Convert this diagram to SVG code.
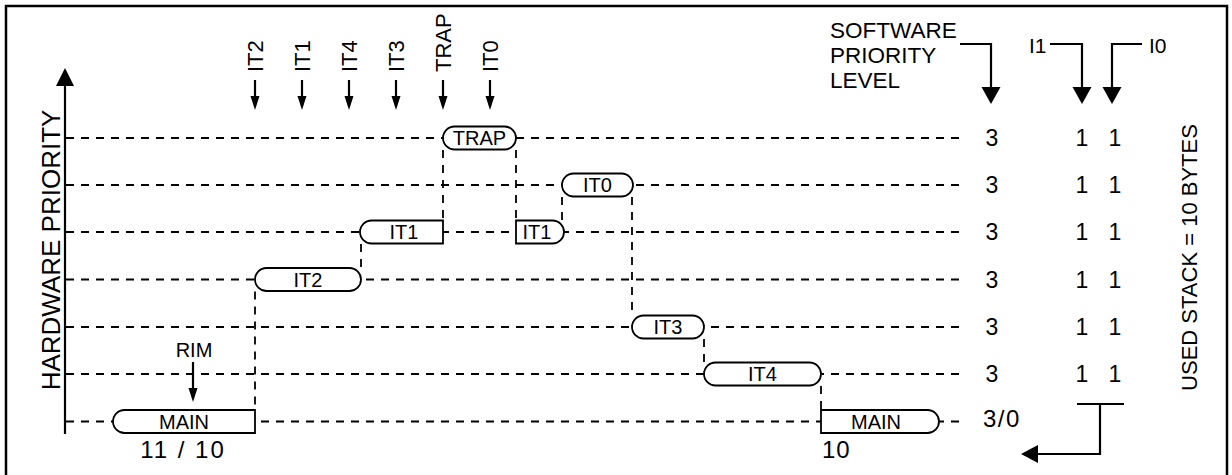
<svg xmlns="http://www.w3.org/2000/svg" width="1232" height="475" viewBox="0 0 1232 475">
<style>
text{font-family:"Liberation Sans",Arial,Helvetica,sans-serif;fill:#000}
.lbl{font-size:22px}
.box{fill:#fff;stroke:#000;stroke-width:1.8}
.bt{font-size:20px;text-anchor:middle}
.num{font-size:23px;text-anchor:middle}
.nl{font-size:24px}
.dash{stroke:#000;stroke-width:1.8;stroke-dasharray:8 7;fill:none}
.ln{stroke:#000;stroke-width:2.2;fill:none}
</style>
<rect width="1232" height="475" fill="#fff"/>
<rect x="6" y="6" width="1221" height="490" fill="none" stroke="#000" stroke-width="2.5"/>

<g id="axis">
<line x1="65" y1="84" x2="65" y2="434" class="ln" stroke-width="2.5"/>
<polygon points="65,68 56,86 74,86" fill="#000"/>
<text class="lbl" style="font-size:26px" text-anchor="middle" transform="translate(60,250) rotate(-90)">HARDWARE PRIORITY</text>
</g>

<g id="connectors">
<line x1="66" y1="138" x2="965" y2="138" class="dash"/>
<line x1="66" y1="185" x2="965" y2="185" class="dash"/>
<line x1="66" y1="232" x2="965" y2="232" class="dash"/>
<line x1="66" y1="279.5" x2="965" y2="279.5" class="dash"/>
<line x1="66" y1="327" x2="965" y2="327" class="dash"/>
<line x1="66" y1="374" x2="965" y2="374" class="dash"/>
<line x1="66" y1="421.5" x2="965" y2="421.5" class="dash"/>
<line x1="255" y1="291.5" x2="255" y2="409.5" class="dash"/>
<line x1="361" y1="244" x2="361" y2="267.5" class="dash"/>
<line x1="443" y1="150" x2="443" y2="220" class="dash"/>
<line x1="516" y1="150" x2="516" y2="220" class="dash"/>
<line x1="562" y1="197" x2="562" y2="220" class="dash"/>
<line x1="632" y1="197" x2="632" y2="315" class="dash"/>
<line x1="704" y1="339" x2="704" y2="362" class="dash"/>
<line x1="821" y1="386" x2="821" y2="409.5" class="dash"/>
</g>

<g id="events">
<g id="ev-it2"><line x1="255" y1="80" x2="255" y2="98" class="ln"/><polygon points="250.5,96 259.5,96 255,110" fill="#000"/><text class="lbl" transform="translate(263,72) rotate(-90)">IT2</text></g>
<g id="ev-it1"><line x1="302" y1="80" x2="302" y2="98" class="ln"/><polygon points="297.5,96 306.5,96 302,110" fill="#000"/><text class="lbl" transform="translate(310,72) rotate(-90)">IT1</text></g>
<g id="ev-it4"><line x1="349" y1="80" x2="349" y2="98" class="ln"/><polygon points="344.5,96 353.5,96 349,110" fill="#000"/><text class="lbl" transform="translate(357,72) rotate(-90)">IT4</text></g>
<g id="ev-it3"><line x1="396" y1="80" x2="396" y2="98" class="ln"/><polygon points="391.5,96 400.5,96 396,110" fill="#000"/><text class="lbl" transform="translate(404,72) rotate(-90)">IT3</text></g>
<g id="ev-trap"><line x1="443" y1="80" x2="443" y2="98" class="ln"/><polygon points="438.5,96 447.5,96 443,110" fill="#000"/><text class="lbl" transform="translate(451,72) rotate(-90)">TRAP</text></g>
<g id="ev-it0"><line x1="490" y1="80" x2="490" y2="98" class="ln"/><polygon points="485.5,96 494.5,96 490,110" fill="#000"/><text class="lbl" transform="translate(498,72) rotate(-90)">IT0</text></g>
<g id="ev-rim"><line x1="193" y1="362" x2="193" y2="390" class="ln"/><polygon points="188.5,388 197.5,388 193,402" fill="#000"/><text class="bt" x="194" y="357">RIM</text></g>
</g>

<g id="n-trap"><rect class="box" x="443" y="126.5" width="73" height="23" rx="11.5"/><text class="bt" x="479.5" y="145">TRAP</text></g>
<g id="n-it0"><rect class="box" x="562" y="173.5" width="71" height="23" rx="11.5"/><text class="bt" x="597.5" y="192">IT0</text></g>
<g id="n-it1a"><path class="box" d="M371.5,220.5 H443 V243.5 H371.5 A11.5,11.5 0 0 1 371.5,220.5 Z"/><text class="bt" x="404" y="239">IT1</text></g>
<g id="n-it1b"><path class="box" d="M516,220.5 H552.5 A11.5,11.5 0 0 1 552.5,243.5 H516 Z"/><text class="bt" x="537" y="239">IT1</text></g>
<g id="n-it2"><rect class="box" x="255" y="268" width="106" height="23" rx="11.5"/><text class="bt" x="308" y="286.5">IT2</text></g>
<g id="n-it3"><rect class="box" x="632" y="315.5" width="72" height="23" rx="11.5"/><text class="bt" x="668" y="334">IT3</text></g>
<g id="n-it4"><rect class="box" x="704" y="362.5" width="117" height="23" rx="11.5"/><text class="bt" x="762.5" y="381">IT4</text></g>
<g id="n-main1"><path class="box" d="M124.5,410 H255 V433 H124.5 A11.5,11.5 0 0 1 124.5,410 Z"/><text class="bt" x="184" y="428.5">MAIN</text><text class="nl" x="183" y="458" text-anchor="middle" letter-spacing="2">11 / 10</text></g>
<g id="n-main2"><path class="box" d="M821,410 H927.5 A11.5,11.5 0 0 1 927.5,433 H821 Z"/><text class="bt" x="876" y="428.5">MAIN</text><text class="nl" x="822" y="458" letter-spacing="1">10</text></g>

<g id="levels">
<text class="lbl" x="830" y="38" style="font-size:22.5px">SOFTWARE</text>
<text class="lbl" x="830" y="63" style="font-size:22.5px">PRIORITY</text>
<text class="lbl" x="830" y="88" style="font-size:22.5px">LEVEL</text>
<text class="lbl" x="1029" y="53" style="font-size:21px">I1</text>
<text class="lbl" x="1149" y="53" style="font-size:21px">I0</text>
<polyline points="960,44 991,44 991,89" class="ln"/>
<polygon points="981.5,87 1000.5,87 991,104" fill="#000"/>
<polyline points="1050,44 1082,44 1082,89" class="ln"/>
<polygon points="1072.5,87 1091.5,87 1082,104" fill="#000"/>
<polyline points="1142,44 1112,44 1112,89" class="ln"/>
<polygon points="1102.5,87 1121.5,87 1112,104" fill="#000"/>
<g class="num">
<text x="992" y="146">3</text><text x="1082" y="146">1</text><text x="1115" y="146">1</text>
<text x="992" y="193">3</text><text x="1082" y="193">1</text><text x="1115" y="193">1</text>
<text x="992" y="240">3</text><text x="1082" y="240">1</text><text x="1115" y="240">1</text>
<text x="992" y="287.5">3</text><text x="1082" y="287.5">1</text><text x="1115" y="287.5">1</text>
<text x="992" y="335">3</text><text x="1082" y="335">1</text><text x="1115" y="335">1</text>
<text x="992" y="382">3</text><text x="1082" y="382">1</text><text x="1115" y="382">1</text>
</g>
<text class="nl" x="983" y="427" letter-spacing="1.5">3/0</text>
<polyline points="1077,404 1124,404" class="ln"/>
<polyline points="1100,404 1100,454 1036,454" class="ln"/>
<polygon points="1038,445 1038,463 1021,454" fill="#000"/>
<text class="lbl" text-anchor="middle" transform="translate(1197,257.5) rotate(-90)">USED STACK = 10 BYTES</text>
</g>
</svg>
